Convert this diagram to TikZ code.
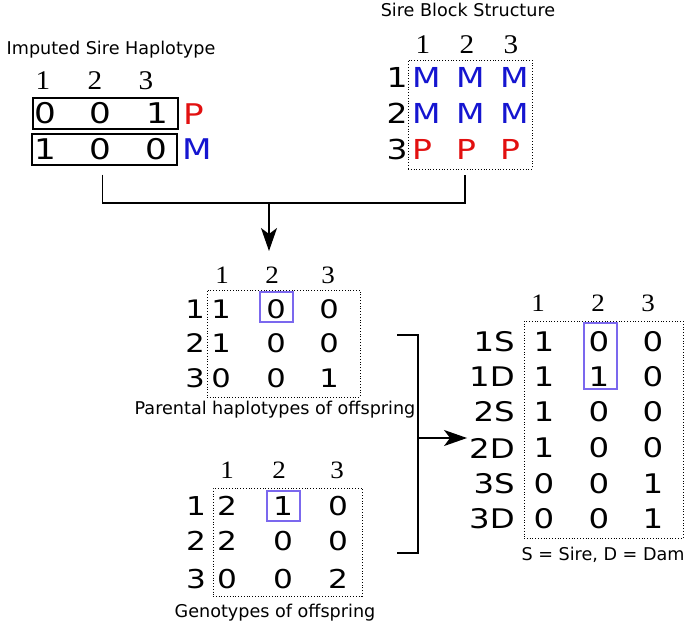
\documentclass[tikz,border=0pt]{standalone}
\usepackage{fontspec}
\setmainfont{DejaVu Sans}
\newfontfamily\cellfont[FakeStretch=1.2]{DejaVu Sans}
\newfontfamily\hdrfont[FakeStretch=1.08]{Liberation Serif}
\usetikzlibrary{arrows.meta}
\definecolor{hapred}{HTML}{E21010}
\definecolor{hapblue}{HTML}{1515D0}
\definecolor{pickblue}{HTML}{7B68EE}

\begin{document}
\begin{tikzpicture}[
		x=1pt, y=-1pt,
		cell/.style = {inner sep=0pt, font=\cellfont\fontsize{#1}{#1}\selectfont},
		cell/.default = 25,
		hdr/.style = {inner sep=0pt, font=\hdrfont\fontsize{#1}{#1}\selectfont},
		hdr/.default = 25,
		lbl/.style = {inner sep=0pt, font=\fontsize{17.6}{17.6}\selectfont},
		hapbox/.style = {draw, line width=1.2pt, inner sep=0pt, minimum width=145, minimum height=31},
		dotbox/.style = {draw, dotted, line width=0.8pt, inner sep=0pt},
		pick/.style = {draw=pickblue, line width=1.1pt, inner sep=0pt, minimum width=33},
		line/.style = {line width=1.4pt},
		arr/.style = {line, -{Stealth[length=23pt,width=16pt,inset=6pt]}}
	]
	\useasboundingbox (0,0) rectangle (685,625);

	% imputed sire haplotype
	\node[lbl] (timp) at (111,50) {Imputed Sire Haplotype};
	\foreach \x/\n in {43/1,95/2,146/3}
		\node[hdr=27] (ih\n) at (\x,81) {\n};
	\node[hapbox] (hapP) at (105.5,113.5) {};
	\node[hapbox] (hapM) at (104.5,149.5) {};
	\foreach \x/\d [count=\i] in {45/0,100/0,157/1}
		\node[cell=28.5] (ip\i) at (\x,113) {\d};
	\foreach \x/\d [count=\i] in {45/1,100/0,156/0}
		\node[cell=28.5] (im\i) at (\x,149) {\d};
	\node[cell=28.5, text=hapred] (lP) at (194,114) {P};
	\node[cell=28.5, text=hapblue] (lM) at (197,149) {M};

	% sire block structure
	\node[lbl] (tsire) at (468,10) {Sire Block Structure};
	\foreach \x/\n in {423/1,467/2,511/3}
		\node[hdr=27] (sh\n) at (\x,45) {\n};
	\node[dotbox, minimum width=124, minimum height=109] (sbox) at (470,114.5) {};
	\foreach \y/\c/\t [count=\r] in {77/hapblue/M,113/hapblue/M,149/hapred/P} {
		\node[cell=27.5] (sr\r) at (397,\y) {\r};
		\foreach \x [count=\k] in {412,456,500}
			\node[cell=27.5, anchor=west, text=\c] (s\r\k) at (\x,\y) {\t};
	}

	% parental haplotypes of offspring
	\foreach \x/\n in {222/1,272/2,328/3}
		\node[hdr] (hh\n) at (\x,275) {\n};
	\node[dotbox, minimum width=153, minimum height=107] (hbox) at (283.5,343.5) {};
	\foreach \y/\a/\b/\c [count=\r] in {309/1/0/0,343/1/0/0,378/0/0/1} {
		\node[cell=25.5] (hr\r) at (195,\y) {\r};
		\node[cell=25.5] (h\r1) at (221,\y) {\a};
		\node[cell=25.5] (h\r2) at (276,\y) {\b};
		\node[cell=25.5] (h\r3) at (329,\y) {\c};
	}
	\node[pick, minimum height=30] (hsel) at (276.5,307) {};
	\node[lbl] (thap) at (275,410) {Parental haplotypes of offspring};

	% genotypes of offspring
	\foreach \x/\n in {227/1,279/2,337/3}
		\node[hdr] (gh\n) at (\x,470) {\n};
	\node[dotbox, minimum width=149, minimum height=108] (gbox) at (287.5,542) {};
	\foreach \y/\a/\b/\c [count=\r] in {506/2/1/0,541/2/0/0,579/0/0/2} {
		\node[cell=26] (gr\r) at (196,\y) {\r};
		\node[cell=26] (g\r1) at (227,\y) {\a};
		\node[cell=26] (g\r2) at (283,\y) {\b};
		\node[cell=26] (g\r3) at (338,\y) {\c};
	}
	\node[pick, minimum height=30] (gsel) at (283.5,506) {};
	\node[lbl] (tgen) at (275,613) {Genotypes of offspring};

	% offspring haplotypes by parent
	\foreach \x/\n in {538/1,598/2,648/3}
		\node[hdr] (oh\n) at (\x,303) {\n};
	\node[dotbox, minimum width=159, minimum height=217] (obox) at (603.5,429.5) {};
	\foreach \y/\l/\a/\b/\c [count=\r] in {342/1S/1/0/0,377/1D/1/1/0,412/2S/1/0/0,448/2D/1/0/0,484/3S/0/0/1,519/3D/0/0/1} {
		\node[cell=27, anchor=east] (or\r) at (515,\y) {\l};
		\node[cell=27] (o\r1) at (544,\y) {\a};
		\node[cell=27] (o\r2) at (599,\y) {\b};
		\node[cell=27] (o\r3) at (653,\y) {\c};
	}
	\node[pick, minimum height=66] (osel) at (600.5,356) {};
	\node[lbl] (tsd) at (603,555) {S = Sire, D = Dam};

	% connectors
	\coordinate (join) at (269,203);
	\coordinate (tip) at (269,251);
	\draw[line, shorten <=9pt, shorten >=6pt] ([xshift=-2pt]hapM.south) |- (join) -| ([xshift=-5pt]sbox.south);
	\draw[arr] (join) -- (tip);
	\coordinate (brtop) at (397,335);
	\coordinate (brmid) at (418,438);
	\coordinate (brbot) at (397,553);
	\draw[line] (brtop) -| (brmid) |- (brbot);
	\draw[arr, shorten >=2pt] (brmid) -- (brmid -| or4.west);
\end{tikzpicture}
\end{document}
